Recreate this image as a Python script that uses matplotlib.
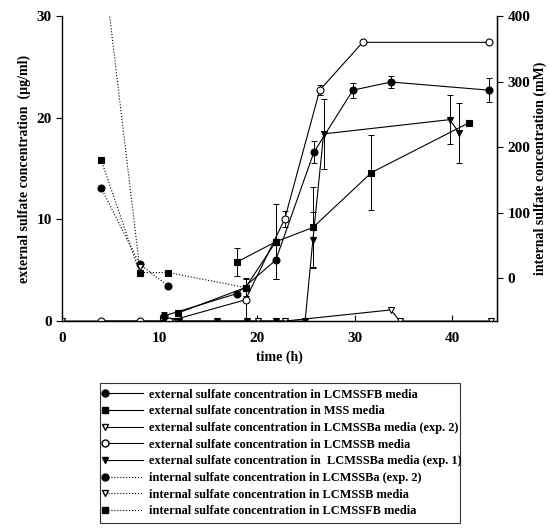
import numpy as np
import matplotlib.pyplot as plt
from matplotlib.lines import Line2D
from matplotlib.legend_handler import HandlerLine2D

plt.rcParams.update({
    "font.family": "serif",
    "font.serif": ["Liberation Serif", "DejaVu Serif"],
    "font.weight": "bold",
    "axes.labelweight": "bold",
    "font.size": 10,
    "axes.linewidth": 0.9,
})

# ── External sulfate (left axis, µg/ml) ─────────────────────────────────────
fb_x = [10.4, 17.9, 21.9, 25.8, 29.8, 33.7, 43.7]
fb_y = [0.5, 2.7, 6.0, 16.6, 22.7, 23.5, 22.7]
fb_err = [0.4, 0.0, 1.9, 1.1, 0.75, 0.6, 1.2]

mss_x = [11.9, 18.8, 21.9, 25.7, 31.7, 41.7]
mss_y = [0.8, 3.3, 7.8, 9.2, 14.6, 19.5]
mss_err = [0.0, 0.8, 3.7, 4.0, 3.7, 0.0]
mss_extra_x = [17.9, 21.9]
mss_extra_y = [5.8, 7.8]
mss_extra_err = [1.35, 0.0]

ba2_x = [0.0, 11.4, 20.1, 22.8, 33.7, 34.6, 43.9]
ba2_y = [0.0, 0.0, 0.0, 0.0, 1.1, 0.0, 0.0]

b_x = [4.0, 7.95, 11.0, 18.8, 22.8, 26.4, 30.8, 43.7]
b_y = [0.0, 0.0, 0.0, 2.1, 10.0, 22.7, 27.4, 27.4]
b_err = [0.0, 0.0, 0.0, 2.1, 0.8, 0.5, 0.0, 0.0]

ba1_x = [12.0, 15.9, 18.9, 21.9, 24.9, 25.7, 26.8, 39.7, 40.7]
ba1_y = [0.0, 0.0, 0.0, 0.0, 0.0, 8.0, 18.4, 19.8, 18.5]
ba1_err = [0.0, 0.0, 0.0, 0.0, 0.0, 2.7, 3.45, 2.4, 2.95]

# ── Internal sulfate (right axis, mM) ───────────────────────────────────────
int_ba2_x = [4.0, 7.95, 10.9]
int_ba2_y = [138, 22, -12]
int_b_x = [4.0, 7.95]
int_b_y = [509, 17]
int_fb_x = [4.0, 7.95, 10.9, 18.8]
int_fb_y = [181, 9, 9, -14]

labels = [
    "external sulfate concentration in LCMSSFB media",
    "external sulfate concentration in MSS media",
    "external sulfate concentration in LCMSSBa media (exp. 2)",
    "external sulfate concentration in LCMSSB media",
    "external sulfate concentration in  LCMSSBa media (exp. 1)",
    "internal sulfate concentration in LCMSSBa (exp. 2)",
    "internal sulfate concentration in LCMSSB media",
    "internal sulfate concentration in LCMSSFB media",
]

fig = plt.figure(figsize=(5.49, 5.29), dpi=100)
ax = fig.add_axes([0.113, 0.393, 0.793, 0.577])
ax2 = ax.twinx()

LW = 0.8
MS = 5


def draw(a, x, y, marker, filled, ls, err=None):
    fc = "black" if filled else "white"
    a.plot(x, y, linestyle=ls, color="black", lw=LW, marker=marker,
           markersize=MS, markerfacecolor=fc, markeredgecolor="black",
           markeredgewidth=0.8, zorder=3)
    if err is not None:
        x, y, err = np.asarray(x), np.asarray(y), np.asarray(err)
        m = err > 0
        a.errorbar(x[m], y[m], yerr=err[m], fmt="none", ecolor="black",
                   elinewidth=0.7, capsize=2.5, capthick=0.7, zorder=2)


draw(ax, ba2_x, ba2_y, "v", False, "-")
draw(ax, b_x, b_y, "o", False, "-", b_err)
draw(ax, ba1_x, ba1_y, "v", True, "-", ba1_err)
draw(ax, mss_x, mss_y, "s", True, "-", mss_err)
draw(ax, mss_extra_x, mss_extra_y, "s", True, "-", mss_extra_err)
draw(ax, fb_x, fb_y, "o", True, "-", fb_err)

draw(ax2, int_fb_x, int_fb_y, "s", True, ":")
draw(ax2, int_ba2_x, int_ba2_y, "o", True, ":")
draw(ax2, int_b_x, int_b_y, "v", False, ":")

ax.set_xlim(0, 44.6)
ax.set_ylim(0, 30)
ax2.set_ylim(-65, 400)
ax.set_xticks([0, 10, 20, 30, 40])
ax.set_yticks([0, 10, 20, 30])
ax2.set_yticks([0, 100, 200, 300, 400])

ax.spines["top"].set_visible(False)
ax2.spines["top"].set_visible(False)
ax.spines["left"].set_color("0.45")
ax.tick_params(axis="x", direction="in", length=4, labelsize=11, pad=8)
ax.tick_params(axis="y", direction="out", length=4, labelsize=11)
ax2.tick_params(axis="y", direction="out", length=4, labelsize=11)

ax.set_xlabel("time (h)", fontsize=10)
ax.set_ylabel("external sulfate concentration  (µg/ml)", fontsize=10)
ax2.set_ylabel("internal sulfate concentration (mM)", fontsize=10, labelpad=2)


class MarkerFirst(HandlerLine2D):
    # marker at the left end of the legend line, as in the original
    def create_artists(self, legend, orig_handle, xdescent, ydescent,
                       width, height, fontsize, trans):
        arts = super().create_artists(legend, orig_handle, xdescent, ydescent,
                                      width, height, fontsize, trans)
        for a in arts:
            if isinstance(a, Line2D) and len(a.get_xdata()) == 3:
                a.set_markevery([0])
        return arts


styles = [("o", True, "-"), ("s", True, "-"), ("v", False, "-"),
          ("o", False, "-"), ("v", True, "-"), ("o", True, ":"),
          ("v", False, ":"), ("s", True, ":")]
handles = [
    Line2D([], [], color="black", lw=LW, linestyle=ls, marker=mk,
           markersize=MS, markerfacecolor="black" if f else "white",
           markeredgecolor="black", label=lab)
    for (mk, f, ls), lab in zip(styles, labels)
]
leg = fig.legend(handles=handles, loc="upper left",
                 bbox_to_anchor=(0.182, 0.276, 0.656, 0.0), mode="expand",
                 borderaxespad=0.0, numpoints=1, handlelength=3.0,
                 handletextpad=0.5, labelspacing=0.38, fontsize=8.9,
                 frameon=True, fancybox=False, edgecolor="black",
                 borderpad=0.45, handler_map={Line2D: MarkerFirst()})
leg.get_frame().set_linewidth(0.8)

fig.savefig("out.png", dpi=100)
